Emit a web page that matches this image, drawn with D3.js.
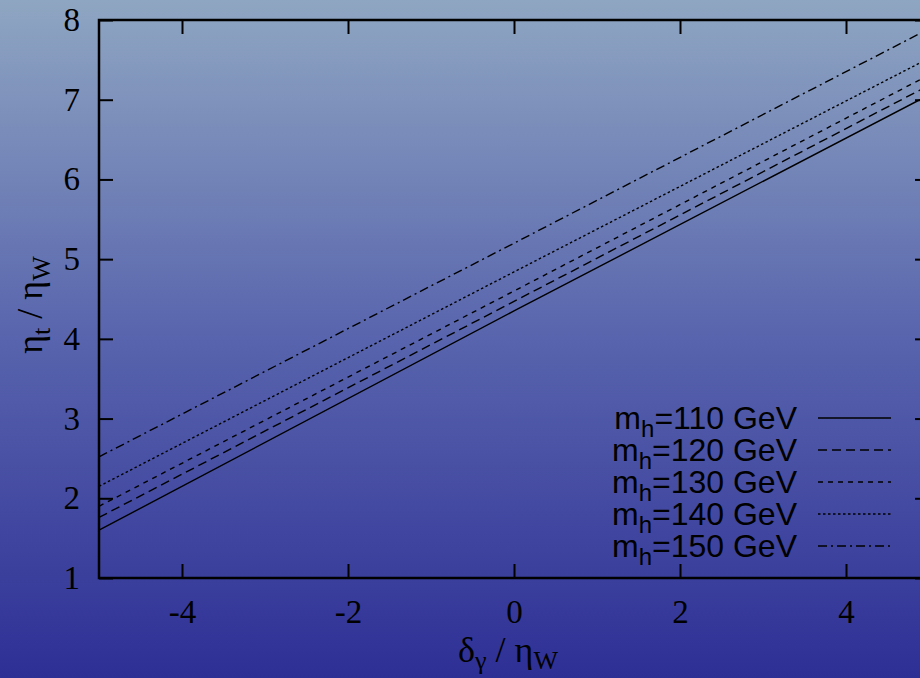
<!DOCTYPE html>
<html>
<head>
<meta charset="utf-8">
<script src="https://cdn.jsdelivr.net/npm/d3@7"></script>
<style>
  html, body { margin: 0; padding: 0; overflow: hidden; }
  svg { display: block; }
</style>
</head>
<body>
<svg id="chart" width="920" height="678"></svg>
<script>
// Higgs mass values (GeV) for each curve
const higgsMasses = [110, 120, 130, 140, 150];
// x sample points: delta_gamma / eta_W
const xSamples = [-5, 0, 5];
// eta_t / eta_W for each Higgs mass at the x sample points
const eta110 = [1.60, 4.35, 7.06];
const eta120 = [1.76, 4.47, 7.18];
const eta130 = [1.90, 4.60, 7.31];
const eta140 = [2.15, 4.84, 7.52];
const eta150 = [2.52, 5.20, 7.89];
const xTicks = [-4, -2, 0, 2, 4];
const yTicks = [1, 2, 3, 4, 5, 6, 7, 8];

const seriesValues = [eta110, eta120, eta130, eta140, eta150];
const dashes = ["none", "9,5", "5,5", "2.5,2.5", "9,4,2,4"];

const W = 920, H = 678;
const svg = d3.select("#chart");

// Background gradient
const defs = svg.append("defs");
const grad = defs.append("linearGradient").attr("id", "bg")
  .attr("x1", 0).attr("y1", 0).attr("x2", 0).attr("y2", 1);
grad.append("stop").attr("offset", "0%").attr("stop-color", "#8fa6c2");
grad.append("stop").attr("offset", "50%").attr("stop-color", "#5864ad");
grad.append("stop").attr("offset", "100%").attr("stop-color", "#2e2f95");
svg.append("rect").attr("width", W).attr("height", H).attr("fill", "url(#bg)");

const plot = { left: 99, right: 929, top: 20, bottom: 578 };
const x = d3.scaleLinear().domain([-5, 5]).range([plot.left, plot.right]);
const y = d3.scaleLinear().domain([1, 8]).range([plot.bottom, plot.top]);

const tickLen = 14;
const serif = "'Liberation Serif', 'Times New Roman', serif";
const sans = "'Liberation Sans', Arial, sans-serif";

// Axes (ticks point inward, labels in serif)
const xAxisBottom = d3.axisBottom(x).tickValues(xTicks).tickSize(-tickLen).tickPadding(22)
  .tickFormat(d => d);
const xAxisTop = d3.axisTop(x).tickValues(xTicks).tickSize(-tickLen).tickFormat("");
const yAxisLeft = d3.axisLeft(y).tickValues(yTicks).tickSize(-tickLen).tickPadding(19)
  .tickFormat(d => d);
const yAxisRight = d3.axisRight(y).tickValues(yTicks).tickSize(-tickLen).tickFormat("");

function styleAxis(g) {
  g.select(".domain").remove();
  g.selectAll(".tick line").attr("stroke", "#000").attr("stroke-width", 2);
  g.selectAll(".tick text").attr("fill", "#000")
    .style("font-family", serif).style("font-size", "33px");
}

svg.append("g").attr("transform", `translate(0,${plot.bottom})`).call(xAxisBottom).call(styleAxis);
svg.append("g").attr("transform", `translate(0,${plot.top})`).call(xAxisTop).call(styleAxis);
svg.append("g").attr("transform", `translate(${plot.left},0)`).call(yAxisLeft).call(styleAxis);
svg.append("g").attr("transform", `translate(${plot.right},0)`).call(yAxisRight).call(styleAxis);

// Frame
svg.append("rect")
  .attr("x", plot.left).attr("y", plot.top)
  .attr("width", plot.right - plot.left).attr("height", plot.bottom - plot.top)
  .attr("fill", "none").attr("stroke", "#000").attr("stroke-width", 2.5);

// Curves
const line = d3.line().x(d => x(d[0])).y(d => y(d[1]));
seriesValues.forEach((vals, i) => {
  const pts = xSamples.map((xv, j) => [xv, vals[j]]);
  svg.append("path").datum(pts)
    .attr("d", line)
    .attr("fill", "none").attr("stroke", "#000").attr("stroke-width", 1.4)
    .attr("stroke-dasharray", dashes[i]);
});

// Legend
const legTextRight = 797, legLineX0 = 818, legLineX1 = 891, legY0 = 418, legDy = 32;
higgsMasses.forEach((m, i) => {
  const cy = legY0 + i * legDy;
  const t = svg.append("text")
    .attr("x", legTextRight).attr("y", cy + 11)
    .attr("text-anchor", "end")
    .style("font-family", sans).style("font-size", "32px").attr("fill", "#000");
  t.append("tspan").text("m");
  t.append("tspan").attr("dy", 8).style("font-size", "24px").text("h");
  t.append("tspan").attr("dy", -8).text(`=${m} GeV`);
  svg.append("line")
    .attr("x1", legLineX0).attr("x2", legLineX1).attr("y1", cy).attr("y2", cy)
    .attr("stroke", "#000").attr("stroke-width", 1.4)
    .attr("stroke-dasharray", dashes[i]);
});

// Axis titles
const xt = svg.append("text")
  .attr("x", 508).attr("y", 662).attr("text-anchor", "middle")
  .style("font-family", serif).style("font-size", "36px").attr("fill", "#000");
xt.append("tspan").text("δ");
xt.append("tspan").attr("dy", 7).style("font-size", "26px").text("γ");
xt.append("tspan").attr("dy", -7).text(" / η");
xt.append("tspan").attr("dy", 7).style("font-size", "26px").text("W");

const yt = svg.append("text")
  .attr("transform", "translate(42,305) rotate(-90)").attr("text-anchor", "middle")
  .style("font-family", serif).style("font-size", "36px").attr("fill", "#000");
yt.append("tspan").text("η");
yt.append("tspan").attr("dy", 8).style("font-size", "26px").text("t");
yt.append("tspan").attr("dy", -8).text(" / η");
yt.append("tspan").attr("dy", 8).style("font-size", "26px").text("W");
</script>
</body>
</html>
